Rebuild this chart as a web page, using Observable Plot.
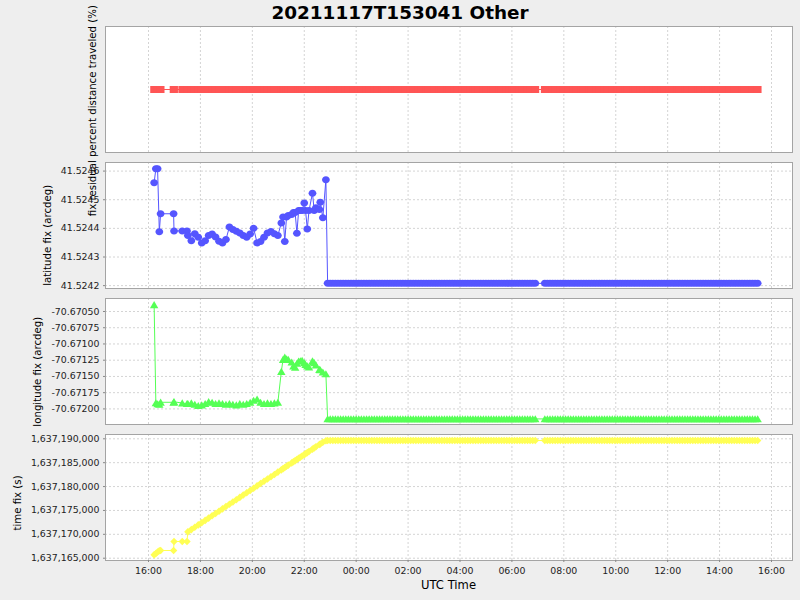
<!DOCTYPE html>
<html><head><meta charset="utf-8">
<script src="https://cdn.jsdelivr.net/npm/d3@7"></script>
<script src="https://cdn.jsdelivr.net/npm/@observablehq/plot@0.6"></script>
<style>
html,body{margin:0;padding:0;background:#eeeeee;}
#chart{position:relative;width:800px;height:600px;background:#eeeeee;overflow:hidden;font-family:"DejaVu Sans",sans-serif;}
#chart svg{position:absolute;left:0;overflow:visible;}
</style></head><body><div id="chart"></div>
<script>
// ---- data (times UTC; hours < 16 belong to 2021-11-18) ----
const chartTitle = "20211117T153041 Other";
const fixTimes = ["16:13","16:17","16:21","16:25","16:28","16:58","16:59","17:18","17:29","17:31",
  "17:39","17:47","17:55","18:03","18:11","18:19","18:27","18:35","18:43","18:51",
  "18:59","19:07","19:15","19:23","19:31","19:39","19:47","19:55","20:03","20:11",
  "20:19","20:27","20:35","20:43","20:51","20:59","21:07","21:11","21:15","21:19",
  "21:23","21:31","21:35","21:39","21:43","21:47","21:51","21:55","22:00","22:03",
  "22:07","22:11","22:19","22:23","22:27","22:35","22:37","22:43","22:50"];
const latValues = [41.524559,41.524608,41.524608,41.524388,41.524451,41.524451,41.524391,41.524391,41.524391,41.524375,
  41.524357,41.524381,41.524369,41.524349,41.524357,41.524375,41.524380,41.524370,41.524355,41.524349,
  41.524361,41.524405,41.524396,41.524390,41.524384,41.524375,41.524369,41.524380,41.524400,41.524349,
  41.524354,41.524369,41.524384,41.524389,41.524381,41.524375,41.524419,41.524440,41.524354,41.524440,
  41.524445,41.524448,41.524455,41.524455,41.524383,41.524462,41.524462,41.524462,41.524489,41.524462,
  41.524398,41.524462,41.524523,41.524462,41.524472,41.524466,41.524491,41.524437,41.524570];
const lonValues = [-70.670397,-70.671907,-70.671923,-70.671930,-70.671898,-70.671898,-70.671890,-70.671910,-70.671920,-70.671920,
  -70.671910,-70.671930,-70.671950,-70.671940,-70.671920,-70.671890,-70.671900,-70.671920,-70.671910,-70.671920,
  -70.671930,-70.671920,-70.671930,-70.671940,-70.671920,-70.671930,-70.671920,-70.671900,-70.671870,-70.671850,
  -70.671900,-70.671920,-70.671910,-70.671920,-70.671910,-70.671900,-70.671425,-70.671240,-70.671205,-70.671230,
  -70.671240,-70.671280,-70.671340,-70.671360,-70.671300,-70.671265,-70.671260,-70.671255,-70.671290,-70.671317,
  -70.671340,-70.671356,-70.671263,-70.671290,-70.671325,-70.671394,-70.671400,-70.671433,-70.671460];
const timeFixValues = [1637165700,1637166000,1637166300,1637166550,1637166612,1637166612,1637168500,1637168500,1637168500,1637170520,
  1637170990,1637171480,1637171970,1637172440,1637172920,1637173400,1637173880,1637174370,1637174840,1637175330,
  1637175820,1637176290,1637176770,1637177250,1637177730,1637178220,1637178690,1637179180,1637179650,1637180140,
  1637180630,1637181100,1637181580,1637182070,1637182540,1637183030,1637183500,1637183750,1637183990,1637184240,
  1637184480,1637184950,1637185200,1637185430,1637185680,1637185920,1637186150,1637186390,1637186680,1637186880,
  1637187110,1637187350,1637187840,1637188070,1637188330,1637188800,1637188920,1637189290,1637189600];
const residualValue = 0;
// after ~22:50 the fix no longer changes
const tailTimes = ["22:54","23:00","23:06","23:12","23:18","23:24","23:30","23:36","23:42","23:48","23:54",
  "00:00","00:06","00:12","00:18","00:24","00:30","00:36","00:42","00:48","00:54",
  "01:00","01:06","01:12","01:18","01:24","01:30","01:36","01:42","01:48","01:54",
  "02:00","02:06","02:12","02:18","02:24","02:30","02:36","02:42","02:48","02:54",
  "03:00","03:06","03:12","03:18","03:24","03:30","03:36","03:42","03:48","03:54",
  "04:00","04:06","04:12","04:18","04:24","04:30","04:36","04:42","04:48","04:54",
  "05:00","05:06","05:12","05:18","05:24","05:30","05:36","05:42","05:48","05:54",
  "06:00","06:06","06:12","06:18","06:24","06:30","06:36","06:42","06:48","06:54",
  "07:16","07:22","07:28","07:34","07:40","07:46","07:52","07:58",
  "08:04","08:10","08:16","08:22","08:28","08:34","08:40","08:46","08:52","08:58",
  "09:04","09:10","09:16","09:22","09:28","09:34","09:40","09:46","09:52","09:58",
  "10:04","10:10","10:16","10:22","10:28","10:34","10:40","10:46","10:52","10:58",
  "11:04","11:10","11:16","11:22","11:28","11:34","11:40","11:46","11:52","11:58",
  "12:04","12:10","12:16","12:22","12:28","12:34","12:40","12:46","12:52","12:58",
  "13:04","13:10","13:16","13:22","13:28","13:34","13:40","13:46","13:52","13:58",
  "14:04","14:10","14:16","14:22","14:28","14:34","14:40","14:46","14:52","14:58",
  "15:04","15:10","15:16","15:22","15:28"];
const latTail = 41.524208;
const lonTail = -70.672154;
const timeFixTail = 1637189640;

const xDomainISO = ["2021-11-17T14:20:36Z", "2021-11-18T16:48:32Z"];
const xTickISO = ["2021-11-17T16:00Z","2021-11-17T18:00Z","2021-11-17T20:00Z","2021-11-17T22:00Z",
  "2021-11-18T00:00Z","2021-11-18T02:00Z","2021-11-18T04:00Z","2021-11-18T06:00Z","2021-11-18T08:00Z",
  "2021-11-18T10:00Z","2021-11-18T12:00Z","2021-11-18T14:00Z","2021-11-18T16:00Z"];
const latTicks = [41.5242, 41.5243, 41.5244, 41.5245, 41.5246];
const lonTicks = [-70.67200, -70.67175, -70.67150, -70.67125, -70.67100, -70.67075, -70.67050];
const timeFixTicks = [1637165000, 1637170000, 1637175000, 1637180000, 1637185000, 1637190000];
const latDomain = [41.52419, 41.52463];
const lonDomain = [-70.67224, -70.67030];
const timeFixDomain = [1637164520, 1637190900];
const yLabels = ["fix residual percent distance traveled (%)", "latitude fix (arcdeg)", "longitude fix (arcdeg)", "time fix (s)"];
const xLabel = "UTC Time";
const colors = ["#ff5555", "#5555ff", "#55ff55", "#ffff55"];

// ---- build ----
function parseT(s) {
  const [h, m] = s.split(":").map(Number);
  return new Date(Date.UTC(2021, 10, h < 16 ? 18 : 17, h, m));
}
const rows = fixTimes.map((s, i) => ({t: parseT(s), res: residualValue, lat: latValues[i], lon: lonValues[i], tf: timeFixValues[i]}))
  .concat(tailTimes.map(s => ({t: parseT(s), res: residualValue, lat: latTail, lon: lonTail, tf: timeFixTail})));
const xDomain = xDomainISO.map(d => new Date(d));
const xTicks = xTickISO.map(d => new Date(d));

const sq = {draw(c) { c.moveTo(-3.9, -3.5); c.lineTo(3.9, -3.5); c.lineTo(3.9, 3.5); c.lineTo(-3.9, 3.5); c.closePath(); }};
const ell = {draw(c) { const rx = 3.9, ry = 3.5, k = 0.5523;
  c.moveTo(rx, 0); c.bezierCurveTo(rx, ry*k, rx*k, ry, 0, ry); c.bezierCurveTo(-rx*k, ry, -rx, ry*k, -rx, 0);
  c.bezierCurveTo(-rx, -ry*k, -rx*k, -ry, 0, -ry); c.bezierCurveTo(rx*k, -ry, rx, -ry*k, rx, 0); c.closePath(); }};
const tri = {draw(c) { c.moveTo(0, -3.7); c.lineTo(4.2, 3.4); c.lineTo(-4.2, 3.4); c.closePath(); }};
const dia = {draw(c) { c.moveTo(0, -3.8); c.lineTo(3.7, 0); c.lineTo(0, 3.8); c.lineTo(-3.7, 0); c.closePath(); }};

const panels = [
  {top: 26, key: "res", domain: [-1, 1], ticks: null, fmt: null, color: colors[0], symbol: sq},
  {top: 162, key: "lat", domain: latDomain, ticks: latTicks, fmt: d => d.toFixed(4), color: colors[1], symbol: ell},
  {top: 298, key: "lon", domain: lonDomain, ticks: lonTicks, fmt: d => d.toFixed(5), color: colors[2], symbol: tri},
  {top: 434, key: "tf", domain: timeFixDomain, ticks: timeFixTicks, fmt: d3.format(","), color: colors[3], symbol: dia, xAxis: true}
];

const chart = document.getElementById("chart");
const gridStyle = {stroke: "#d4d4d4", strokeOpacity: 1, strokeDasharray: "2,2", strokeWidth: 1};
for (const p of panels) {
  const mb = p.xAxis ? 40 : 0;
  const svg = Plot.plot({
    width: 800, height: 126 + mb,
    marginLeft: 105, marginRight: 8, marginTop: 0, marginBottom: mb,
    style: {background: "transparent", overflow: "visible", fontFamily: "DejaVu Sans", fontSize: "9.4px", color: "#222"},
    x: {type: "utc", domain: xDomain, axis: null},
    y: {domain: p.domain, axis: null},
    marks: [
      Plot.frame({fill: "white", stroke: "none"}),
      Plot.gridX(xTicks, gridStyle),
      p.ticks ? Plot.gridY(p.ticks, gridStyle) : null,
      Plot.line(rows, {x: "t", y: p.key, stroke: p.color, strokeWidth: 1}),
      Plot.dot(rows, {x: "t", y: p.key, fill: p.color, stroke: "none", symbol: p.symbol, r: 4}),
      Plot.frame({stroke: "#a4a4a4", strokeWidth: 1}),
      p.ticks ? Plot.axisY(p.ticks, {label: null, tickSize: 2, tickPadding: 4, tickFormat: p.fmt, stroke: "#888", fill: "#222"}) : null,
      p.xAxis ? Plot.axisX(xTicks, {label: null, tickSize: 2, tickPadding: 4.6, tickFormat: d3.utcFormat("%H:%M"), stroke: "#888", fill: "#222"}) : null
    ]
  });
  svg.style.top = p.top + "px";
  chart.appendChild(svg);
}

// overlay texts
const ov = d3.select(chart).append("svg").attr("width", 800).attr("height", 600)
  .style("top", "0px").style("pointer-events", "none").style("font-family", "'DejaVu Sans', sans-serif");
ov.append("text").attr("x", 400).attr("y", 18.5).attr("text-anchor", "middle")
  .attr("font-size", 18.4).attr("font-weight", "bold").attr("fill", "#000").text(chartTitle);
const labelPos = [[96, 110.7], [51.2, 235.3], [41.2, 371.7], [20.5, 503]];
yLabels.forEach((s, i) => {
  const [x, y] = labelPos[i];
  ov.append("text").attr("transform", `translate(${x},${y}) rotate(-90)`).attr("text-anchor", "middle")
    .attr("font-size", 10.2).attr("fill", "#000").text(s);
});
ov.append("text").attr("x", 448.5).attr("y", 589).attr("text-anchor", "middle")
  .attr("font-size", 11.6).attr("fill", "#000").text(xLabel);
</script></body></html>
